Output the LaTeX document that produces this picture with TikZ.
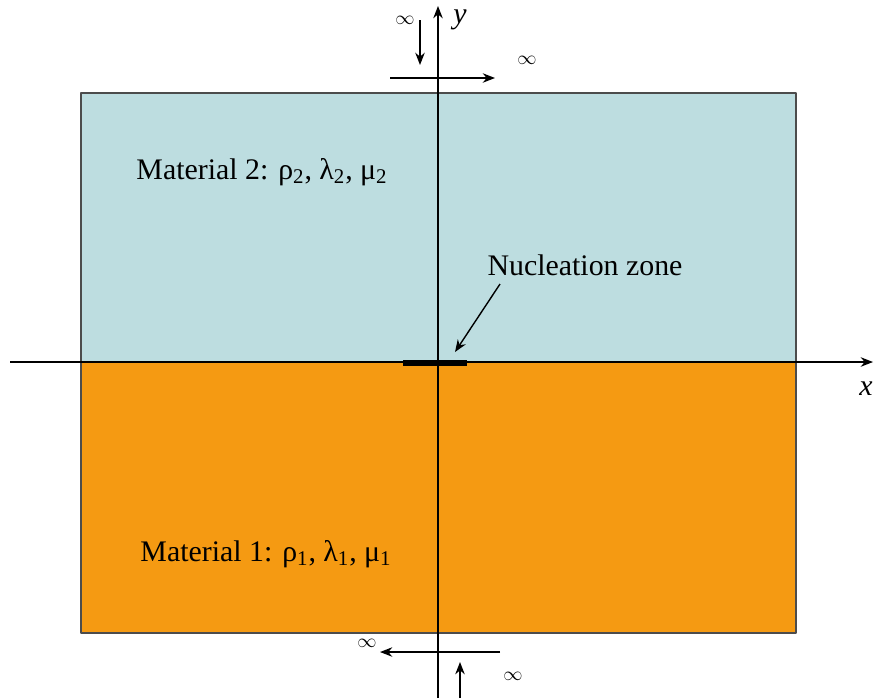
\documentclass[tikz,border=0pt]{standalone}
\usepackage{fontspec}
\setmainfont{Liberation Serif}
\usetikzlibrary{arrows.meta}

\definecolor{matone}{HTML}{F59A12}
\definecolor{mattwo}{HTML}{BDDDE0}

\begin{document}
\begin{tikzpicture}[x=0.02cm,y=-0.02cm,line cap=butt,line join=round,
  >={Stealth[length=7pt,width=5.4pt]},
  every node/.style={inner sep=1pt},
  axis/.style={->,line width=0.9pt},
  farr/.style={->,line width=0.8pt},
  inflab/.style={font=\fontsize{11}{12}\selectfont},
  matlab/.style={font=\fontsize{17}{20}\selectfont}]
  \useasboundingbox (0,0) rectangle (874,698);
  % the two materials
  \draw[fill=mattwo,draw=black!70,line width=0.6pt] (81,93) rectangle (796,362);
  \draw[fill=matone,draw=black!70,line width=0.6pt] (81,362) rectangle (796,633);
  \node[matlab] (mtwo) at (262,172) {Material 2: ρ\textsubscript{2}, λ\textsubscript{2}, μ\textsubscript{2}};
  \node[matlab] (mone) at (266,554) {Material 1: ρ\textsubscript{1}, λ\textsubscript{1}, μ\textsubscript{1}};
  % axes
  \coordinate (xs) at (10,362);
  \coordinate (xe) at (873,362);
  \coordinate (ys) at (438,698);
  \coordinate (ye) at (438,6);
  \draw[axis] (xs) -- (xe);
  \draw[axis] (ys) -- (ye);
  \node[font=\fontsize{17}{18}\selectfont\itshape] (xlab) at (866,389) {x};
  \node[font=\fontsize{17}{18}\selectfont\itshape] (ylab) at (460,20) {y};
  % nucleation zone
  \draw[line width=3.4pt] (403,363) coordinate (nza) -- (467,363) coordinate (nzb);
  \node[matlab] (nuc) at (585,265) {Nucleation zone};
  \draw[farr] (500,284) -- (455,352);
  % loading at infinity, top
  \coordinate (ta) at (420,20);
  \coordinate (tb) at (420,65);
  \draw[farr] (ta) -- (tb);
  \node[inflab] (tinf) at (405,20) {$\infty$};
  \coordinate (tc) at (390,78);
  \coordinate (td) at (495,78);
  \draw[farr] (tc) -- (td);
  \node[inflab] (rinf) at (527,60) {$\infty$};
  % loading at infinity, bottom
  \coordinate (ba) at (500,652);
  \coordinate (bb) at (380,652);
  \draw[farr] (ba) -- (bb);
  \node[inflab] (linf) at (367,643) {$\infty$};
  \coordinate (bc) at (460,698);
  \coordinate (bd) at (460,662);
  \draw[farr] (bc) -- (bd);
  \node[inflab] (binf) at (513,676) {$\infty$};
\end{tikzpicture}
\end{document}
